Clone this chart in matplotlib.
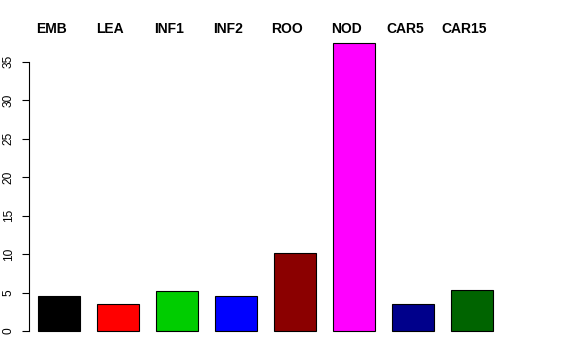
#!/usr/bin/env python3
import matplotlib
matplotlib.use("Agg")
import matplotlib.pyplot as plt

categories = ["EMB", "LEA", "INF1", "INF2", "ROO", "NOD", "CAR5", "CAR15"]
values = [4.55, 3.5, 5.25, 4.55, 10.2, 37.5, 3.5, 5.33]
bar_colors = ["#000000", "#FF0000", "#00CD00", "#0000FF",
              "#8B0000", "#FF00FF", "#00008B", "#006400"]
y_ticks = [0, 5, 10, 15, 20, 25, 30, 35]

plt.rcParams["font.family"] = ["Liberation Sans", "DejaVu Sans"]

W, H = 576, 360
fig = plt.figure(figsize=(W / 100, H / 100), dpi=100)
ax = fig.add_axes([29 / W, (H - 342.5) / H, (546 - 29) / W, (342.5 - 31) / H])

x = list(range(len(categories)))
ax.bar(x, values, width=0.71, color=bar_colors, edgecolor="black", linewidth=0.8)

ax.set_xlim(-0.508, 8.25)
ax.set_ylim(-1.5, 39)

for s in ["top", "right", "bottom"]:
    ax.spines[s].set_visible(False)
ax.spines["left"].set_bounds(0, 35)
ax.spines["left"].set_linewidth(0.8)
ax.set_xticks([])
ax.set_yticks(y_ticks)
ax.set_yticklabels([str(t) for t in y_ticks], rotation=90, va="center", fontsize=8.6)
ax.tick_params(axis="y", length=5.2, width=0.8, pad=5)

# category names above the bars
for i, name in enumerate(categories):
    ax.text(i - 0.13, 39.3, name, ha="center", va="center",
            fontsize=10, fontweight="bold", clip_on=False)

fig.savefig("out.png", dpi=100)
